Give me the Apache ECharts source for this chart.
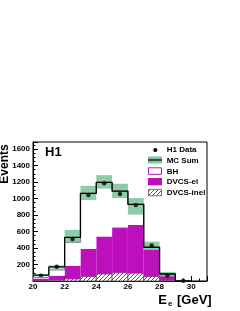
<!DOCTYPE html>
<html>
<head>
<meta charset="utf-8">
<script src="https://cdn.jsdelivr.net/npm/echarts@6/dist/echarts.min.js"></script>
<style>
html,body{margin:0;padding:0;background:#fff;}
#c{width:240px;height:311px;}
</style>
</head>
<body>
<div id="c"></div>
<script>
// ---- data (bins of 1 GeV, left edges) ----
const binEdges = [20, 21, 22, 23, 24, 25, 26, 27, 28, 29];
const dvcsInel = [5, 10, 25, 55, 85, 100, 95, 55, 8, 0];
const dvcsEl   = [25, 55, 160, 335, 455, 550, 585, 330, 62, 0];
const bh       = [15, 70, 285, 673, 655, 440, 250, 24, 15, 0];
const mcSum    = [72, 172, 528, 1063, 1195, 1090, 930, 409, 85, 0];
const mcLow    = [62, 150, 460, 982, 1120, 1005, 805, 377, 55, 0];
const mcHigh   = [84, 190, 620, 1154, 1283, 1179, 1005, 477, 110, 0];
const h1Data   = [65, 172, 508, 1042, 1185, 1055, 920, 429, 68, 2];
const xTicks = [20, 22, 24, 26, 28, 30];
const yTicks = [200, 400, 600, 800, 1000, 1200, 1400, 1600];
const legendNames = ['H1 Data', 'MC Sum', 'BH', 'DVCS-el', 'DVCS-inel'];

const FONT = '"Liberation Sans", Arial, Helvetica, sans-serif';
const MAGENTA = '#bd10bd';
const GREEN = '#7fc7a0';

// hatch pattern
const pc = document.createElement('canvas');
pc.width = 4; pc.height = 4;
const pctx = pc.getContext('2d');
pctx.fillStyle = '#fff'; pctx.fillRect(0,0,4,4);
pctx.strokeStyle = '#444'; pctx.lineWidth = 0.9;
pctx.beginPath();
pctx.moveTo(0,4); pctx.lineTo(4,0);
pctx.moveTo(-1,1); pctx.lineTo(1,-1);
pctx.moveTo(3,5); pctx.lineTo(5,3);
pctx.stroke();
const hatch = {image: pc, repeat: 'repeat'};

// stacked rects
const inelRects = [], elRects = [], bhRects = [], bandRects = [];
binEdges.forEach((x, i) => {
  const a = dvcsInel[i], b = a + dvcsEl[i], c = b + bh[i];
  inelRects.push([x, x + 1, 0, a]);
  elRects.push([x, x + 1, a, b]);
  bhRects.push([x, x + 1, b, c]);
  bandRects.push([x, x + 1, mcLow[i], mcHigh[i]]);
});
function stepData(vals) {
  const d = binEdges.map((x, i) => [x, vals[i]]);
  d.push([binEdges[binEdges.length - 1] + 1, vals[vals.length - 1]]);
  return d;
}
const bhTop = binEdges.map((x, i) => dvcsInel[i] + dvcsEl[i] + bh[i]);

function rectSeries(data, style, skipZero) {
  return {
    type: 'custom', data: data, encode: {x: [0, 1], y: [2, 3]}, silent: true,
    renderItem: function (params, api) {
      const lo = api.value(2), hi = api.value(3);
      if (hi - lo <= 0) return null;
      const p0 = api.coord([api.value(0), hi]);
      const p1 = api.coord([api.value(1), lo]);
      return {type: 'rect', shape: {x: p0[0], y: p0[1], width: p1[0] - p0[0], height: p1[1] - p0[1]}, style: style};
    }
  };
}

const chart = echarts.init(document.getElementById('c'), null, {renderer: 'canvas'});
const lblStyle = {fontFamily: FONT, fontWeight: 'bold', fontSize: 8, color: '#000'};

const option = {
  animation: false,
  backgroundColor: '#fff',
  grid: {left: 33, top: 142, width: 174, height: 139, show: true, borderColor: '#000', borderWidth: 1, backgroundColor: 'transparent'},
  xAxis: {
    type: 'value', min: 20, max: 31, interval: 2,
    axisLine: {show: true, onZero: false, lineStyle: {color: '#000', width: 1}},
    axisTick: {show: true, inside: true, length: 5, lineStyle: {color: '#000'}},
    minorTick: {show: true, splitNumber: 4, length: 2.5, lineStyle: {color: '#000'}},
    splitLine: {show: false},
    axisLabel: Object.assign({margin: 2, showMaxLabel: false,
      formatter: v => xTicks.indexOf(v) >= 0 ? String(v) : ''}, lblStyle)
  },
  yAxis: {
    type: 'value', min: 0, max: 1685, interval: 200,
    axisLine: {show: true, lineStyle: {color: '#000', width: 1}},
    axisTick: {show: true, inside: true, length: 5, lineStyle: {color: '#000'}},
    minorTick: {show: true, splitNumber: 4, length: 2.5, lineStyle: {color: '#000'}},
    splitLine: {show: false},
    axisLabel: Object.assign({margin: 3, showMaxLabel: false,
      formatter: v => yTicks.indexOf(v) >= 0 ? String(v) : ''}, lblStyle)
  },
  series: [
    rectSeries(inelRects, {fill: hatch, stroke: '#555', lineWidth: 0.8}),
    rectSeries(elRects, {fill: MAGENTA}),
    rectSeries(bhRects, {fill: '#fff'}),
    rectSeries(bandRects, {fill: GREEN, opacity: 0.9}),
    {type: 'line', step: 'end', data: stepData(bhTop), symbol: 'none', silent: true,
     lineStyle: {color: '#8a8a8a', width: 1.2}},
    {type: 'line', step: 'end', data: stepData(mcSum), symbol: 'none', silent: true,
     lineStyle: {color: '#000', width: 1.3}},
    {type: 'scatter', data: binEdges.map((x, i) => [x + 0.5, h1Data[i]]), symbol: 'circle', symbolSize: 4.5,
     itemStyle: {color: '#000'}, silent: true}
  ],
  graphic: [
    {type: 'text', silent: true, style: {x: 45, y: 152, text: 'H1', font: 'bold 13px ' + FONT, fill: '#000', textVerticalAlign: 'middle'}},
    {type: 'text', silent: true, x: 5, y: 164, rotation: Math.PI / 2,
     style: {x: 0, y: 0, text: 'Events', font: 'bold 12px ' + FONT, fill: '#000', textAlign: 'center', textVerticalAlign: 'middle'}},
    {type: 'text', silent: true, style: {x: 158.3, y: 300.3, text: 'E', font: 'bold 13px ' + FONT, fill: '#000', textVerticalAlign: 'middle'}},
    {type: 'text', silent: true, style: {x: 168, y: 303.5, text: 'e', font: 'bold 8px ' + FONT, fill: '#000', textVerticalAlign: 'middle'}},
    {type: 'text', silent: true, style: {x: 211.7, y: 300.3, text: '[GeV]', font: 'bold 13px ' + FONT, fill: '#000', textAlign: 'right', textVerticalAlign: 'middle'}},
    // legend
    {type: 'circle', silent: true, shape: {cx: 155.3, cy: 150, r: 2.1}, style: {fill: '#000'}},
    {type: 'rect', silent: true, shape: {x: 148, y: 156.5, width: 14, height: 7}, style: {fill: GREEN}},
    {type: 'line', silent: true, shape: {x1: 148, y1: 160, x2: 162, y2: 160}, style: {stroke: '#000', lineWidth: 1.2}},
    {type: 'rect', silent: true, shape: {x: 148.5, y: 167.8, width: 13, height: 6.5}, style: {fill: '#fff', stroke: MAGENTA, lineWidth: 1}},
    {type: 'rect', silent: true, shape: {x: 148, y: 178, width: 14, height: 7.3}, style: {fill: MAGENTA}},
    {type: 'rect', silent: true, shape: {x: 148.5, y: 189.3, width: 13, height: 6.5}, style: {fill: hatch, stroke: '#555', lineWidth: 0.8}},
  ].concat(legendNames.map((n, i) => ({
    type: 'text', silent: true,
    style: {x: 166.7, y: [150, 160.3, 171.3, 181.7, 192.7][i], text: n, font: 'bold 8px ' + FONT, fill: '#000', textVerticalAlign: 'middle'}
  })))
};
chart.setOption(option);
</script>
</body>
</html>
